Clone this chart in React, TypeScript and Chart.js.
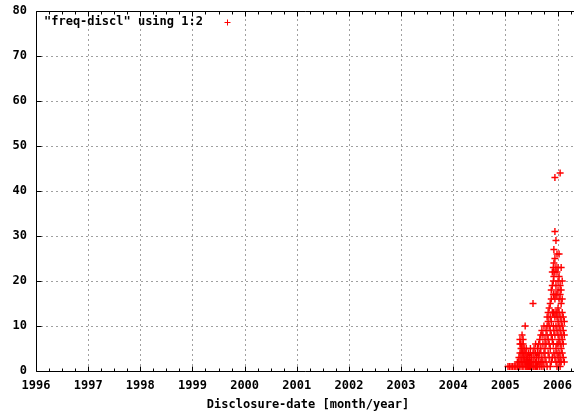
import { useEffect, useRef } from "react";
import { Chart, registerables } from "chart.js";

Chart.register(...registerables);

const xTickYears = [1996, 1997, 1998, 1999, 2000, 2001, 2002, 2003, 2004, 2005, 2006];
const yTickValues = [0, 10, 20, 30, 40, 50, 60, 70, 80];
const seriesLabel = '"freq-discl" using 1:2';
const xAxisTitle = "Disclosure-date [month/year]";

// [disclosure date (decimal year), frequency]
const freqDiscl: [number, number][] = [
  [2005.05, 1], [2005.08, 1], [2005.11, 1], [2005.14, 1], [2005.17, 1], [2005.2, 1],
  [2005.23, 1], [2005.23, 2],
  [2005.26, 1], [2005.26, 2], [2005.26, 3],
  [2005.28, 1], [2005.28, 4], [2005.28, 6], [2005.28, 7],
  [2005.3, 2], [2005.3, 3], [2005.3, 5], [2005.3, 6],
  [2005.32, 1], [2005.32, 2], [2005.32, 4], [2005.32, 5], [2005.32, 8],
  [2005.34, 1], [2005.34, 3], [2005.34, 4], [2005.34, 6], [2005.34, 7],
  [2005.36, 2], [2005.36, 3], [2005.36, 5],
  [2005.38, 1], [2005.38, 2], [2005.38, 4], [2005.38, 10],
  [2005.4, 1], [2005.4, 2], [2005.4, 3], [2005.4, 5],
  [2005.42, 1], [2005.42, 2], [2005.42, 3],
  [2005.44, 1], [2005.44, 2], [2005.44, 4],
  [2005.46, 1], [2005.46, 2], [2005.46, 3],
  [2005.48, 1], [2005.48, 2], [2005.48, 4], [2005.48, 5],
  [2005.5, 1], [2005.5, 2], [2005.5, 3],
  [2005.53, 1], [2005.53, 2], [2005.53, 4], [2005.53, 15],
  [2005.55, 1], [2005.55, 3], [2005.55, 5],
  [2005.58, 1], [2005.58, 2], [2005.58, 4], [2005.58, 6],
  [2005.6, 1], [2005.6, 2], [2005.6, 3],
  [2005.62, 1], [2005.62, 4], [2005.62, 5],
  [2005.64, 2], [2005.64, 3], [2005.64, 6],
  [2005.66, 1], [2005.66, 4], [2005.66, 7],
  [2005.68, 2], [2005.68, 5], [2005.68, 8],
  [2005.7, 1], [2005.7, 3], [2005.7, 9],
  [2005.72, 2], [2005.72, 6], [2005.72, 8],
  [2005.74, 1], [2005.74, 4], [2005.74, 10],
  [2005.76, 3], [2005.76, 5], [2005.76, 7],
  [2005.78, 2], [2005.78, 6], [2005.78, 9],
  [2005.8, 1], [2005.8, 8], [2005.8, 10], [2005.8, 12],
  [2005.82, 4], [2005.82, 7], [2005.82, 11], [2005.82, 13],
  [2005.84, 3], [2005.84, 6], [2005.84, 10], [2005.84, 14],
  [2005.86, 1], [2005.86, 5], [2005.86, 9], [2005.86, 12], [2005.86, 15],
  [2005.88, 2], [2005.88, 8], [2005.88, 11], [2005.88, 16], [2005.88, 18],
  [2005.9, 3], [2005.9, 7], [2005.9, 13], [2005.9, 19], [2005.9, 22],
  [2005.92, 6], [2005.92, 10], [2005.92, 13], [2005.92, 17], [2005.92, 20], [2005.92, 23],
  [2005.93, 4], [2005.93, 9], [2005.93, 13], [2005.93, 17], [2005.93, 21], [2005.93, 24], [2005.93, 27],
  [2005.95, 3], [2005.95, 8], [2005.95, 12], [2005.95, 16], [2005.95, 22], [2005.95, 25], [2005.95, 31], [2005.95, 43],
  [2005.97, 2], [2005.97, 5], [2005.97, 10], [2005.97, 13], [2005.97, 17], [2005.97, 19], [2005.97, 23], [2005.97, 29],
  [2005.99, 1], [2005.99, 4], [2005.99, 6], [2005.99, 9], [2005.99, 12], [2005.99, 13], [2005.99, 17], [2005.99, 22], [2005.99, 26],
  [2006.01, 3], [2006.01, 6], [2006.01, 8], [2006.01, 11], [2006.01, 14], [2006.01, 18], [2006.01, 20], [2006.01, 23],
  [2006.03, 2], [2006.03, 4], [2006.03, 7], [2006.03, 10], [2006.03, 13], [2006.03, 16], [2006.03, 21], [2006.03, 26],
  [2006.05, 1], [2006.05, 3], [2006.05, 6], [2006.05, 9], [2006.05, 12], [2006.05, 17], [2006.05, 19], [2006.05, 44],
  [2006.07, 2], [2006.07, 5], [2006.07, 8], [2006.07, 11], [2006.07, 15], [2006.07, 18], [2006.07, 23],
  [2006.09, 4], [2006.09, 7], [2006.09, 10], [2006.09, 13], [2006.09, 16], [2006.09, 20],
  [2006.11, 3], [2006.11, 6], [2006.11, 9], [2006.11, 12],
  [2006.13, 2], [2006.13, 8], [2006.13, 11],
];

const FONT = "bold 12px 'DejaVu Sans Mono', monospace";
const RED = "#ff0000";

const gnuplotFrame = {
  id: "gnuplotFrame",
  beforeDatasetsDraw(chart: any) {
    const { ctx, chartArea: a, scales } = chart;
    const xs = scales.x;
    const ys = scales.y;
    ctx.save();
    ctx.strokeStyle = "#a0a0a0";
    ctx.lineWidth = 1;
    ctx.setLineDash([2, 3]);
    for (const v of xTickYears) {
      const px = Math.round(xs.getPixelForValue(v)) + 0.5;
      if (px <= a.left + 1) continue;
      ctx.beginPath();
      ctx.moveTo(px, a.bottom);
      ctx.lineTo(px, a.top);
      ctx.stroke();
    }
    for (const v of yTickValues) {
      const py = Math.round(ys.getPixelForValue(v)) + 0.5;
      if (py <= a.top + 1 || py >= a.bottom - 1) continue;
      ctx.beginPath();
      ctx.moveTo(a.left, py);
      ctx.lineTo(a.right, py);
      ctx.stroke();
    }
    ctx.restore();
  },
  afterDraw(chart: any) {
    const { ctx, chartArea: a, scales } = chart;
    const xs = scales.x;
    const ys = scales.y;
    ctx.save();
    ctx.strokeStyle = "#000";
    ctx.lineWidth = 1;
    ctx.setLineDash([]);
    const L = Math.round(a.left) + 0.5;
    const R = a.right;
    const T = Math.round(a.top) + 0.5;
    const B = Math.round(a.bottom) + 0.5;
    ctx.beginPath();
    ctx.moveTo(R, T);
    ctx.lineTo(L, T);
    ctx.lineTo(L, B);
    ctx.lineTo(R, B);
    // x major + minor ticks (inward, bottom and top)
    for (const v of xTickYears) {
      for (let q = 0; q < 4; q++) {
        const val = v + q * 0.25;
        const px = Math.round(xs.getPixelForValue(val)) + 0.5;
        if (px > R) continue;
        const len = q === 0 ? 5 : 3;
        ctx.moveTo(px, B);
        ctx.lineTo(px, B - len);
        ctx.moveTo(px, T);
        ctx.lineTo(px, T + len);
      }
    }
    for (const v of yTickValues) {
      const py = Math.round(ys.getPixelForValue(v)) + 0.5;
      ctx.moveTo(L, py);
      ctx.lineTo(L + 5, py);
    }
    ctx.stroke();

    ctx.font = FONT;
    ctx.fillStyle = "#000";
    ctx.textBaseline = "middle";

    // y tick labels
    ctx.textAlign = "right";
    for (const v of yTickValues) {
      ctx.fillText(String(v), a.left - 9, ys.getPixelForValue(v));
    }
    // x tick labels
    ctx.textAlign = "center";
    for (const v of xTickYears) {
      ctx.fillText(String(v), xs.getPixelForValue(v), a.bottom + 15);
    }
    // x axis title
    ctx.fillText(xAxisTitle, 308, a.bottom + 34);

    // key (legend) inside the plot
    ctx.textAlign = "left";
    const ky = a.top + 11;
    ctx.fillText(seriesLabel, a.left + 8, ky);
    const kx = Math.round(a.left + 191) + 0.5;
    const kyy = Math.round(ky) + 0.5;
    ctx.strokeStyle = RED;
    ctx.lineWidth = 1;
    ctx.beginPath();
    ctx.moveTo(kx - 3, kyy);
    ctx.lineTo(kx + 3, kyy);
    ctx.moveTo(kx, kyy - 3);
    ctx.lineTo(kx, kyy + 3);
    ctx.stroke();
    ctx.restore();
  },
};

export default function App() {
  const canvasRef = useRef<HTMLCanvasElement | null>(null);

  useEffect(() => {
    if (!canvasRef.current) return;
    const chart = new Chart(canvasRef.current, {
      type: "scatter",
      data: {
        datasets: [
          {
            label: seriesLabel,
            data: freqDiscl.map(([x, y]) => ({ x, y })),
            pointStyle: "cross",
            radius: 3.5,
            borderWidth: 1.4,
            borderColor: RED,
            backgroundColor: RED,
          },
        ],
      },
      options: {
        animation: false,
        responsive: false,
        devicePixelRatio: 1,
        layout: { autoPadding: false, padding: { top: 11, right: 0, left: 0, bottom: 0 } },
        plugins: {
          legend: { display: false },
          tooltip: { enabled: false },
        },
        scales: {
          x: {
            type: "linear",
            min: 1996,
            max: 2006.316,
            grid: { display: false, drawTicks: false },
            border: { display: false },
            afterFit: (scale: any) => {
              scale.height = 41;
            },
            ticks: { display: false },
          },
          y: {
            type: "linear",
            min: 0,
            max: 80,
            grid: { display: false, drawTicks: false },
            border: { display: false },
            afterFit: (scale: any) => {
              scale.width = 36;
            },
            ticks: { display: false },
          },
        },
      },
      plugins: [gnuplotFrame],
    });
    return () => chart.destroy();
  }, []);

  return (
    <div style={{ position: "fixed", left: 0, top: 0, width: 574, height: 412, background: "#fff" }}>
      <canvas ref={canvasRef} width={574} height={412} style={{ display: "block" }} />
    </div>
  );
}
